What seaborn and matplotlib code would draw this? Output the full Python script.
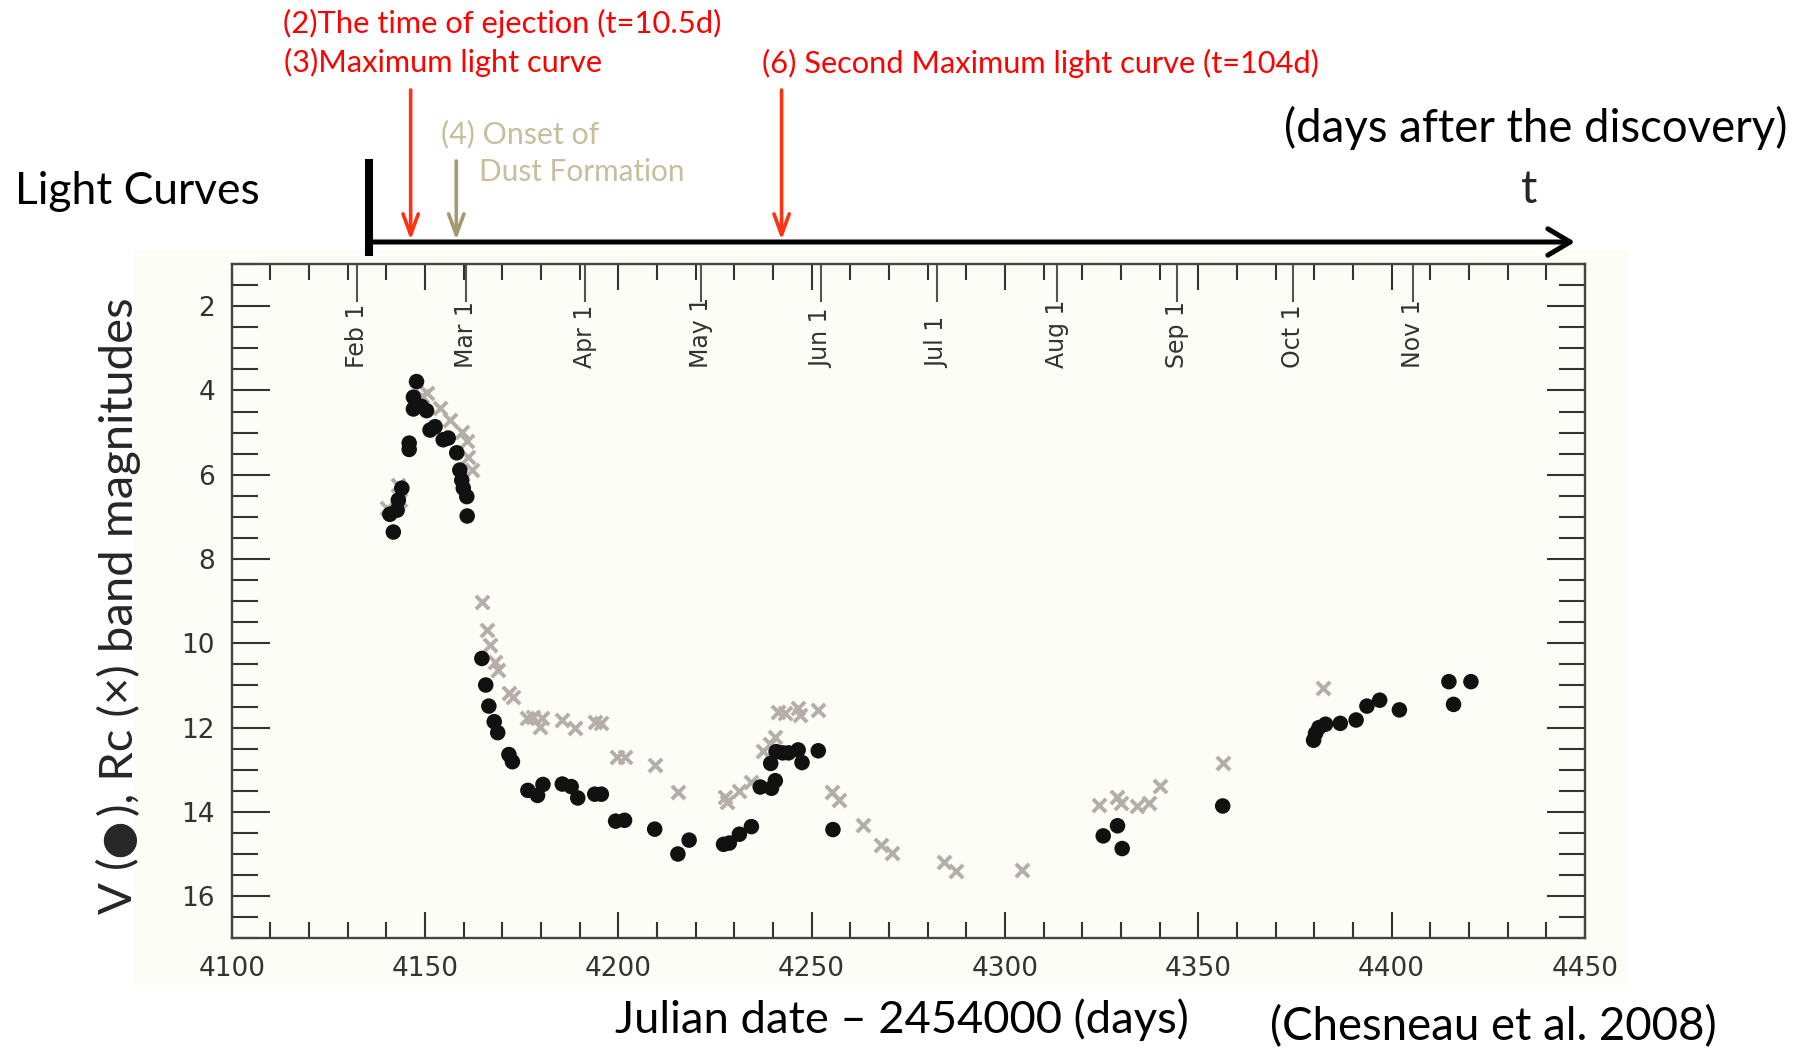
import matplotlib
matplotlib.use("Agg")
import matplotlib.pyplot as plt
import matplotlib.transforms as mtransforms
from matplotlib.patches import Rectangle
from matplotlib.ticker import MultipleLocator, NullLocator
import seaborn as sns

# ---- light-curve data (JD - 2450000, magnitude) ----
v_jd = [4140.9, 4141.8, 4142.8, 4143.1, 4144.0, 4145.9, 4145.9, 4147.0, 4147.0, 4147.8,
        4149.1, 4150.4, 4151.3, 4152.6, 4154.7, 4156.0, 4158.2, 4159.0, 4159.5, 4159.9,
        4160.8, 4160.9,
        4164.7, 4165.7, 4166.5, 4167.9, 4168.8, 4171.7, 4172.6, 4176.6, 4179.1, 4180.5,
        4185.5, 4187.8, 4189.5, 4193.9, 4195.6, 4199.3, 4201.6, 4209.4, 4215.4, 4218.3,
        4227.2, 4228.7, 4231.3, 4234.4, 4236.7, 4239.6, 4240.6, 4239.4, 4240.8, 4242.5,
        4244.0, 4246.5, 4247.5, 4251.7, 4255.5,
        4325.4, 4329.1, 4330.3, 4356.3, 4379.8, 4380.3, 4381.2, 4382.9, 4386.7, 4390.8,
        4393.6, 4396.9, 4402.0, 4414.8, 4416.0, 4420.5]
v_mag = [6.94, 7.36, 6.84, 6.60, 6.32, 5.25, 5.40, 4.16, 4.44, 3.79,
         4.38, 4.48, 4.94, 4.86, 5.17, 5.13, 5.48, 5.89, 6.13, 6.32,
         6.52, 6.98,
         10.36, 10.99, 11.49, 11.86, 12.12, 12.64, 12.81, 13.49, 13.61, 13.35,
         13.34, 13.40, 13.67, 13.58, 13.58, 14.22, 14.20, 14.41, 15.00, 14.67,
         14.77, 14.74, 14.53, 14.35, 13.41, 13.44, 13.26, 12.85, 12.57, 12.60,
         12.60, 12.53, 12.83, 12.55, 14.42,
         14.57, 14.33, 14.87, 13.86, 12.30, 12.14, 12.00, 11.92, 11.90, 11.82,
         11.49, 11.35, 11.58, 10.91, 11.45, 10.91]

rc_jd = [4140.1, 4143.1, 4143.5, 4149.1, 4150.4, 4153.9, 4156.5, 4159.5, 4160.9, 4161.2,
         4162.1,
         4164.7, 4165.9, 4166.7, 4168.2, 4169.0, 4171.7, 4172.8, 4176.3, 4178.0, 4179.7,
         4180.3, 4185.5, 4188.9, 4193.9, 4195.6, 4199.7, 4201.6, 4209.4, 4215.4, 4227.5,
         4228.1, 4231.3, 4234.4, 4237.3, 4239.3, 4240.6, 4241.4, 4243.1, 4246.5, 4247.1,
         4251.7, 4255.2, 4257.1, 4263.2, 4267.8, 4270.7,
         4284.2, 4287.3, 4304.3, 4324.3, 4328.9, 4330.1, 4334.1, 4337.3, 4340.2, 4356.3,
         4382.2]
rc_mag = [6.80, 6.25, 6.60, 4.14, 4.06, 4.42, 4.70, 4.98, 5.21, 5.57,
          5.89,
          9.01, 9.68, 10.04, 10.44, 10.63, 11.19, 11.27, 11.78, 11.74, 11.98,
          11.78, 11.82, 12.00, 11.86, 11.88, 12.69, 12.69, 12.89, 13.52, 13.64,
          13.76, 13.50, 13.29, 12.55, 12.38, 12.22, 11.62, 11.66, 11.54, 11.70,
          11.58, 13.52, 13.71, 14.32, 14.78, 14.97,
          15.20, 15.41, 15.37, 13.84, 13.64, 13.80, 13.86, 13.80, 13.39, 12.83,
          11.05]

# calendar marks of 2007 on the upper axis
month_jd = [4132.5, 4160.5, 4191.5, 4221.5, 4252.5, 4282.5, 4313.5, 4344.5, 4374.5, 4405.5]
month_labels = ["Feb 1", "Mar 1", "Apr 1", "May 1", "Jun 1", "Jul 1", "Aug 1", "Sep 1",
                "Oct 1", "Nov 1"]

# timeline of events (days after discovery)
t_ejection = 10.5
t_dust = 22.0
t_second_max = 104.0
timeline_span = 304.0          # days covered by the schematic time arrow

# ---- figure ----
sns.set_style("ticks")
plt.rcParams["font.family"] = ["DejaVu Sans"]
W, H = 1809, 1050
fig = plt.figure(figsize=(W / 100, H / 100), dpi=100, facecolor="white")
renderer = fig.canvas.get_renderer()


def fx(px):
    return px / W


def fy(py):
    return 1 - py / H


CREAM = "#FDFDF7"
fig.patches.append(Rectangle((fx(134), fy(986)), fx(1628) - fx(134), fy(250) - fy(986),
                             transform=fig.transFigure, facecolor=CREAM, edgecolor="none",
                             zorder=-5))

ax = fig.add_axes([fx(231.7), fy(938.3), fx(1585) - fx(231.7), fy(264) - fy(938.3)])
ax.set_facecolor(CREAM)

sns.scatterplot(x=rc_jd, y=rc_mag, marker="x", s=90, color="#B5ADA8", linewidth=2.8,
                ax=ax, zorder=2, legend=False)
sns.scatterplot(x=v_jd, y=v_mag, marker="o", s=125, color="#111111", edgecolor="none",
                ax=ax, zorder=3, legend=False)

ax.set_xlim(4100, 4450)
ax.set_ylim(17, 1)
ax.set_xlabel("")
ax.set_ylabel("")
ax.xaxis.set_major_locator(MultipleLocator(50))
ax.xaxis.set_minor_locator(MultipleLocator(10))
ax.yaxis.set_major_locator(MultipleLocator(2))
ax.yaxis.set_minor_locator(MultipleLocator(0.5))

TICK = "#333333"
for side in ax.spines.values():
    side.set_color("#444444")
    side.set_linewidth(1.7)
ax.tick_params(axis="x", which="major", direction="in", length=18.7, width=1.5,
               top=True, bottom=True, color=TICK, labelcolor=TICK, labelsize=19, pad=13)
ax.tick_params(axis="x", which="minor", direction="in", length=11.2, width=1.5,
               top=True, bottom=True, color=TICK)
ax.tick_params(axis="y", which="major", direction="in", length=27.4, width=1.5,
               left=True, right=True, color=TICK, labelcolor=TICK, labelsize=19, pad=12)
ax.tick_params(axis="y", which="minor", direction="in", length=18.7, width=1.5,
               left=True, right=True, color=TICK)

# month ticks and labels inside the upper frame
sec = ax.secondary_xaxis("top")
sec.set_xticks(month_jd)
sec.xaxis.set_minor_locator(NullLocator())
sec.tick_params(direction="in", length=27.4, width=1.5, color="#555555", labeltop=False)
sec.spines["top"].set_visible(False)
month_tr = mtransforms.blended_transform_factory(ax.transData, ax.transAxes)
for xm, lab in zip(month_jd, month_labels):
    ax.text(xm, 0.8458, lab, transform=month_tr, rotation=90, rotation_mode="anchor",
            ha="left", va="center", fontsize=17, color=TICK)

# ---- text helpers fitted to a target extent in pixels ----
SANS = ["Lato", "DejaVu Sans"]


def fit_text(s, x0, x1, yc, color="black", size0=24):
    t = fig.text(fx((x0 + x1) / 2), fy(yc), s, ha="center", va="center", fontsize=size0,
                 color=color, family=SANS)
    w = t.get_window_extent(renderer=renderer).width
    t.set_fontsize(size0 * (x1 - x0) / w)
    return t


def stacked_vtext(parts, xc, y0, y1, size0=24):
    """Vertical label made of pieces with relative sizes, filling y0..y1 (pixels)."""
    texts = [fig.text(fx(xc), 0.5, s, rotation=90, ha="center", va="center",
                      fontsize=size0 * k, family=SANS) for s, k in parts]
    heights = [t.get_window_extent(renderer=renderer).height for t in texts]
    scale = (y1 - y0) / sum(heights)
    ypos = y1
    for t, (s, k), h in zip(texts, parts, heights):
        t.set_fontsize(size0 * k * scale)
        t.set_y(fy(ypos - h * scale / 2))
        ypos -= h * scale


RED = "#FF0000"
TAN = "#C8BE9D"
fit_text("Light Curves", 15, 260, 192)
days = fit_text("(days after the discovery)", 1284, 1788, 128)
fig.text(fx(1529), fy(190), "t", ha="center", va="center", fontsize=days.get_fontsize(),
         family=SANS)
fit_text("(2)The time of ejection (t=10.5d)", 283, 721, 23, color=RED)
fit_text("(3)Maximum light curve", 283, 602, 62, color=RED)
fit_text("(6) Second Maximum light curve (t=104d)", 761, 1319, 63, color=RED)
fit_text("(4) Onset of", 441, 600, 134, color=TAN)
fit_text("Dust Formation", 479, 685, 172, color=TAN)
stacked_vtext([("V (", 1.0), ("\u25CF", 1.45), ("), Rc (\u00D7) band magnitudes", 1.0)],
              119, 298, 914)
fit_text("Julian date \u2013 2454000 (days)", 615, 1188, 1020)
fit_text("(Chesneau et al. 2008)", 1269, 1717, 1027)

# ---- schematic time arrow: its own axis, t = 0 at the discovery bar ----
tax = fig.add_axes([fx(369), fy(256), fx(1575) - fx(369), fy(159) - fy(256)])
tax.set_xlim(0, timeline_span)
tax.set_ylim(0, 1)
tax.axis("off")
tl = mtransforms.blended_transform_factory(tax.transData, fig.transFigure)
tax.plot([0, 0], [fy(159), fy(256)], transform=tl, color="black", lw=5.8,
         solid_capstyle="butt", clip_on=False, zorder=5)
tax.annotate("", xy=(timeline_span, fy(242)), xycoords=tl, xytext=(0, fy(242)),
             textcoords=tl, annotation_clip=False,
             arrowprops=dict(arrowstyle="->,head_length=16,head_width=9.5", lw=3.6,
                             color="black", shrinkA=0, shrinkB=0, mutation_scale=1))
for t_ev, col, y_top in [(t_ejection, "#FF3311", 90), (t_second_max, "#FF3311", 90),
                         (t_dust, "#A39A72", 161)]:
    tax.annotate("", xy=(t_ev, fy(240)), xycoords=tl, xytext=(t_ev, fy(y_top)),
                 textcoords=tl, annotation_clip=False,
                 arrowprops=dict(arrowstyle="->,head_length=15,head_width=5.5", lw=2.6,
                                 color=col, shrinkA=0, shrinkB=0, mutation_scale=1))

fig.savefig("out.png", dpi=100, facecolor="white")
